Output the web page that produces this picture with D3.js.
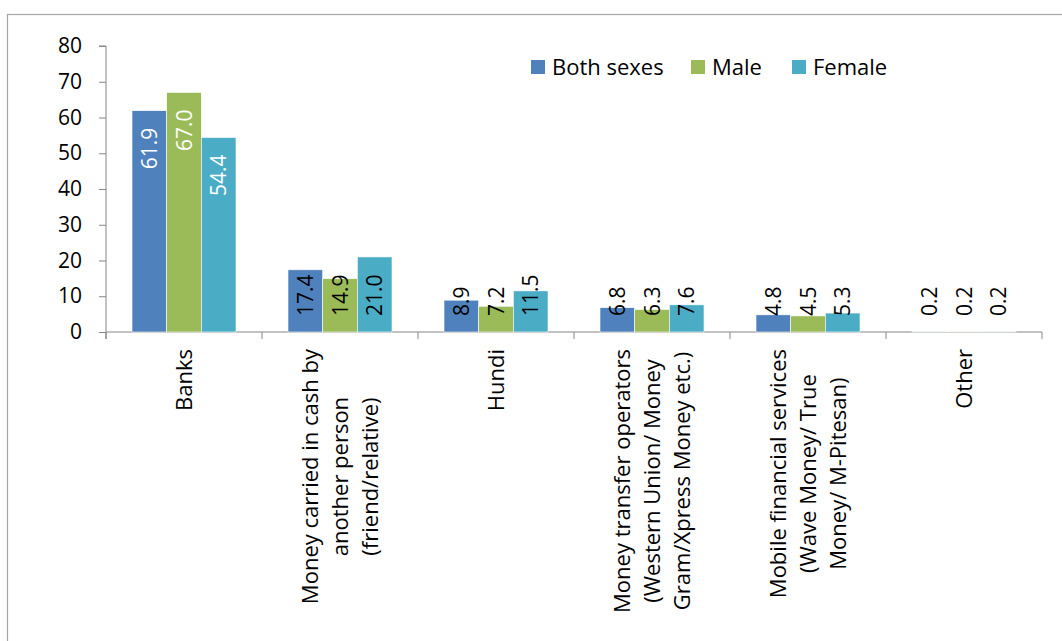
<!DOCTYPE html>
<html>
<head>
<meta charset="utf-8">
<script src="https://cdn.jsdelivr.net/npm/d3@7"></script>
<style>
  html, body { margin: 0; padding: 0; background: #fff; }
  svg text { font-family: "Open Sans", "Liberation Sans", sans-serif; }
</style>
</head>
<body>
<svg id="chart" width="1062" height="641"></svg>
<script>
const categories = [
  ["Banks"],
  ["Money carried in cash by", "another person", "(friend/relative)"],
  ["Hundi"],
  ["Money transfer operators", "(Western Union/ Money", "Gram/Xpress Money etc.)"],
  ["Mobile financial services", "(Wave Money/ True", "Money/ M-Pitesan)"],
  ["Other"]
];
const seriesNames = ["Both sexes", "Male", "Female"];
const bothSexes = [61.9, 17.4, 8.9, 6.8, 4.8, 0.2];
const male = [67.0, 14.9, 7.2, 6.3, 4.5, 0.2];
const female = [54.4, 21.0, 11.5, 7.6, 5.3, 0.2];
const yTicks = [0, 10, 20, 30, 40, 50, 60, 70, 80];
const colors = ["#4F81BD", "#9BBB59", "#4BACC6"];

(function () {
const series = [bothSexes, male, female];
const svg = d3.select("#chart");
const FS = 21, FT = 22;

// outer frame
svg.append("rect").attr("x", 7.5).attr("y", 14.5).attr("width", 1100).attr("height", 700)
  .attr("fill", "none").attr("stroke", "#a6a6a6").attr("stroke-width", 1.2);

const pLeft = 106, pRight = 1042, pTop = 46, pBottom = 332;
const catIdx = categories.map((c, i) => i);
const x = d3.scaleBand().domain(catIdx).range([pLeft, pRight]).paddingInner(0).paddingOuter(0);
const x1 = d3.scaleBand().domain([0, 1, 2]).range([x.bandwidth() / 6, x.bandwidth() * 5 / 6]);
const y = d3.scaleLinear().domain([0, 80]).range([pBottom, pTop]);

// y axis
const yAxis = d3.axisLeft(y).tickValues(yTicks).tickSize(7).tickPadding(17).tickFormat(d3.format("d"));
const gy = svg.append("g").attr("transform", `translate(${pLeft},0)`).call(yAxis);
gy.select(".domain").attr("stroke", "#868686").attr("d", `M-7,${pTop}H0V${pBottom + 7}`);
gy.selectAll(".tick line").attr("stroke", "#868686");
gy.selectAll(".tick text").attr("font-size", FS).attr("fill", "#000")
  .style("font-family", '"Open Sans", sans-serif');

// x axis
svg.append("line").attr("x1", pLeft).attr("x2", pRight).attr("y1", pBottom).attr("y2", pBottom)
  .attr("stroke", "#868686");
svg.selectAll("line.xtick").data(catIdx.concat([categories.length])).enter().append("line")
  .attr("class", "xtick")
  .attr("x1", d => d < categories.length ? x(d) : pRight)
  .attr("x2", d => d < categories.length ? x(d) : pRight)
  .attr("y1", pBottom).attr("y2", pBottom + 7).attr("stroke", "#868686");

// bars
const groups = svg.selectAll("g.cat").data(catIdx).enter().append("g")
  .attr("class", "cat").attr("transform", d => `translate(${x(d)},0)`);
series.forEach((vals, s) => {
  groups.append("rect")
    .attr("x", x1(s)).attr("width", x1.bandwidth())
    .attr("y", d => y(vals[d])).attr("height", d => y(0) - y(vals[d]))
    .attr("fill", colors[s]).attr("stroke", "#fff").attr("stroke-width", 0.6);
});

// value labels
series.forEach((vals, s) => {
  groups.append("text")
    .attr("transform", d => {
      const cx = x1(s) + x1.bandwidth() / 2;
      const yy = d === 0 ? y(vals[d]) + 17 : y(0) - 16;
      return `translate(${cx},${yy}) rotate(-90)`;
    })
    .attr("text-anchor", d => d === 0 ? "end" : "start")
    .attr("dy", "0.36em")
    .attr("font-size", FS)
    .attr("fill", d => d === 0 ? "#fff" : "#000")
    .text(d => vals[d].toFixed(1));
});

// category labels
categories.forEach((lines, i) => {
  const cx = x(i) + x.bandwidth() / 2;
  const g = svg.append("g");
  const texts = lines.map((ln, j) => g.append("text")
    .attr("font-size", FT).attr("fill", "#000").attr("text-anchor", "middle")
    .attr("dy", "0.36em").text(ln));
  const maxLen = d3.max(texts, t => t.node().getComputedTextLength());
  const cy = 349 + maxLen / 2;
  texts.forEach((t, j) => {
    const lx = cx + (j - (lines.length - 1) / 2) * 30;
    t.attr("transform", `translate(${lx},${cy}) rotate(-90)`);
  });
});

// legend
const legendX = [531, 691, 792];
seriesNames.forEach((name, s) => {
  svg.append("rect").attr("x", legendX[s]).attr("y", 60).attr("width", 14).attr("height", 14)
    .attr("fill", colors[s]);
  svg.append("text").attr("x", legendX[s] + 21).attr("y", 67).attr("dy", "0.36em")
    .attr("font-size", FT).attr("fill", "#000").text(name);
});
})();
</script>
</body>
</html>
